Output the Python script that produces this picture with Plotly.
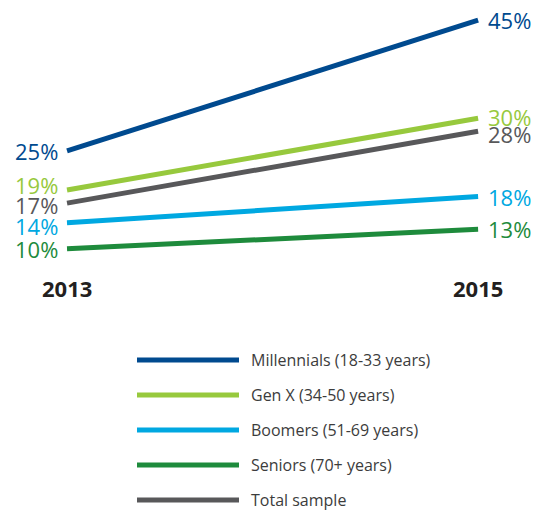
import plotly.graph_objects as go

years = [2013, 2015]
groups = ["Millennials (18-33 years)", "Gen X (34-50 years)", "Boomers (51-69 years)",
          "Seniors (70+ years)", "Total sample"]
values = {
    "Millennials (18-33 years)": [25, 45],
    "Gen X (34-50 years)": [19, 30],
    "Boomers (51-69 years)": [14, 18],
    "Seniors (70+ years)": [10, 13],
    "Total sample": [17, 28],
}
colors = ["#004a8f", "#97c93d", "#00a8e1", "#1e8b3c", "#58585a"]
# small vertical nudges so the end labels don't collide
label_shift_left = [0, 5, -3, 0, -2]
label_shift_right = [0, 1, 0, 0, -3]

FONT = "Open Sans"
W, H = 541, 512

fig = go.Figure()

for i, g in enumerate(groups):
    fig.add_trace(go.Scatter(
        x=years, y=values[g], mode="lines",
        line=dict(color=colors[i], width=5),
        showlegend=False, hoverinfo="skip",
    ))
    fig.add_annotation(x=years[0], y=values[g][0], text=f"{values[g][0]}%",
                       xanchor="right", yanchor="middle", xshift=-7,
                       yshift=label_shift_left[i], showarrow=False,
                       font=dict(family=FONT, size=22, color=colors[i]))
    fig.add_annotation(x=years[1], y=values[g][1], text=f"{values[g][1]}%",
                       xanchor="left", yanchor="middle", xshift=8,
                       yshift=label_shift_right[i], showarrow=False,
                       font=dict(family=FONT, size=22, color=colors[i]))

# year labels
for yr in years:
    fig.add_annotation(x=yr, y=1 - 288 / H, yref="paper", text=f"<b>{yr}</b>",
                       showarrow=False, xanchor="center", yanchor="middle",
                       font=dict(family=FONT, size=22, color="#231f20"))

# legend drawn by hand (long line swatches)
for i, g in enumerate(groups):
    yy = 1 - (360 + 35 * i) / H
    fig.add_shape(type="line", xref="paper", yref="paper",
                  x0=137 / W, x1=239 / W, y0=yy, y1=yy,
                  line=dict(color=colors[i], width=5))
    fig.add_annotation(x=249 / W, y=yy, xref="paper", yref="paper", text=g,
                       showarrow=False, xanchor="left", yanchor="middle",
                       font=dict(family=FONT, size=16, color="#3c3c3c"))

fig.update_layout(
    width=W, height=H,
    margin=dict(l=0, r=0, t=0, b=0),
    paper_bgcolor="white", plot_bgcolor="white",
    xaxis=dict(range=[2012.674, 2015.306], visible=False, fixedrange=True),
    yaxis=dict(range=[-30.3, 48.1], visible=False, fixedrange=True),
)

fig.write_html("out.html", config={"displayModeBar": False},
               post_script="document.body.style.margin='0';")
